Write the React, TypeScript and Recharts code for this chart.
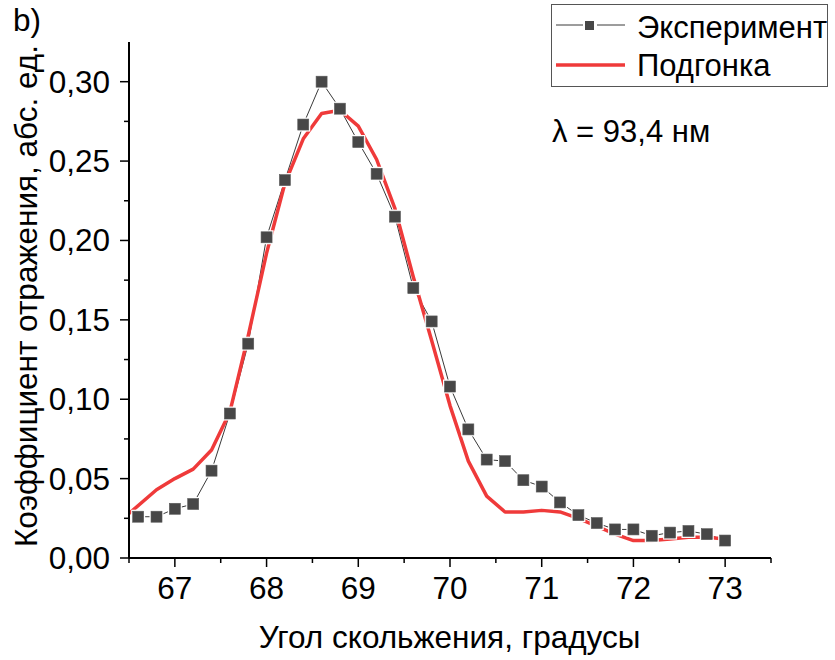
import React from 'react';
import { LineChart, Line, XAxis, YAxis } from 'recharts';

// Measured reflectivity vs. grazing angle
const expAngle = [
  66.6, 66.8, 67.0, 67.2, 67.4, 67.6, 67.8, 68.0, 68.2, 68.4, 68.6,
  68.8, 69.0, 69.2, 69.4, 69.6, 69.8, 70.0, 70.2, 70.4, 70.6, 70.8,
  71.0, 71.2, 71.4, 71.6, 71.8, 72.0, 72.2, 72.4, 72.6, 72.8, 73.0,
];
const expReflect = [
  0.026, 0.026, 0.031, 0.034, 0.055, 0.091, 0.135, 0.202, 0.238, 0.273, 0.300,
  0.283, 0.262, 0.242, 0.215, 0.170, 0.149, 0.108, 0.081, 0.062, 0.061, 0.049,
  0.045, 0.035, 0.027, 0.022, 0.018, 0.018, 0.014, 0.016, 0.017, 0.015, 0.011,
];

// Model fit
const fitAngle = [
  66.5, 66.8, 67.0, 67.2, 67.4, 67.6, 67.8, 68.0, 68.2, 68.4, 68.6,
  68.8, 69.0, 69.2, 69.4, 69.6, 69.8, 70.0, 70.2, 70.4, 70.6, 70.8,
  71.0, 71.2, 71.4, 71.6, 71.8, 72.0, 72.2, 72.4, 72.6, 72.8, 73.0,
];
const fitReflect = [
  0.028, 0.043, 0.050, 0.056, 0.068, 0.092, 0.140, 0.192, 0.236, 0.264, 0.280,
  0.282, 0.272, 0.251, 0.220, 0.177, 0.137, 0.096, 0.061, 0.039, 0.029, 0.029,
  0.030, 0.029, 0.025, 0.020, 0.015, 0.011, 0.011, 0.012, 0.013, 0.013, 0.012,
];

const xTicks = [66.5, 67, 67.5, 68, 68.5, 69, 69.5, 70, 70.5, 71, 71.5, 72, 72.5, 73, 73.5];
const yTicks = [0, 0.025, 0.05, 0.075, 0.1, 0.125, 0.15, 0.175, 0.2, 0.225, 0.25, 0.275, 0.3];

const seriesNames = ['Эксперимент', 'Подгонка'];
const xTitle = 'Угол скольжения, градусы';
const yTitle = 'Коэффициент отражения, абс. ед.';
const panelTag = 'b)';
const note = 'λ = 93,4 нм';

const expData = expAngle.map((x, i) => ({ x, y: expReflect[i] }));
const fitData = fitAngle.map((x, i) => ({ x, y: fitReflect[i] }));

const FONT = "'Liberation Sans', Arial, Helvetica, sans-serif";
const TEXT_SIZE = 31.5;
const EXP_COLOR = '#474747';
const EXP_LINE = '#3a3a3a';
const FIT_COLOR = '#ef3a3a';

const isMajorX = (v: number) => Math.abs(v - Math.round(v)) < 1e-6;
const isMajorY = (v: number) => Math.abs(v * 20 - Math.round(v * 20)) < 1e-6;

const XTick = (props: any) => {
  const { x, y, payload } = props;
  const v = payload.value as number;
  const major = isMajorX(v);
  return (
    <g>
      <line x1={x} x2={x} y1={y} y2={y + (major ? 9 : 5)} stroke="#000" strokeWidth={1.5} />
      {major && (
        <text x={x} y={y + 41} textAnchor="middle" fontSize={TEXT_SIZE} fontFamily={FONT} fill="#000">
          {String(v)}
        </text>
      )}
    </g>
  );
};

const YTick = (props: any) => {
  const { x, y, payload } = props;
  const v = payload.value as number;
  const major = isMajorY(v);
  return (
    <g>
      <line x1={x - (major ? 9 : 5)} x2={x} y1={y} y2={y} stroke="#000" strokeWidth={1.5} />
      {major && (
        <text x={x - 19} y={y + 11} textAnchor="end" fontSize={TEXT_SIZE} fontFamily={FONT} fill="#000">
          {v.toFixed(2).replace('.', ',')}
        </text>
      )}
    </g>
  );
};

// Square symbol with a white gap around it, so the connecting line stops short of the marker
const SquareDot = (props: any) => {
  const { cx, cy, index } = props;
  if (cx == null || cy == null) return <g key={index} />;
  return (
    <g key={index}>
      <rect x={cx - 7} y={cy - 7} width={14} height={14} fill="#fff" />
      <rect x={cx - 5.5} y={cy - 5.5} width={11} height={11} fill={EXP_COLOR} stroke="#5a5a5a" strokeWidth={0.6} />
    </g>
  );
};

const LegendBox = () => (
  <g fontFamily={FONT} fill="#000">
    <rect x={551.5} y={4.5} width={276} height={82} fill="#fff" stroke="#555" strokeWidth={1} />
    <line x1={556} x2={583} y1={25} y2={25} stroke={EXP_LINE} strokeWidth={1} />
    <line x1={597} x2={625} y1={25} y2={25} stroke={EXP_LINE} strokeWidth={1} />
    <rect x={585} y={21} width={9} height={9} fill={EXP_COLOR} />
    <text x={637} y={37.5} fontSize={31}>{seriesNames[0]}</text>
    <line x1={556} x2={625} y1={65} y2={65} stroke={FIT_COLOR} strokeWidth={3.5} />
    <text x={637} y={76} fontSize={31}>{seriesNames[1]}</text>
  </g>
);

export default function App() {
  return (
    <div style={{ position: 'absolute', left: 0, top: 0, width: 835, height: 660, background: '#fff' }}>
      <LineChart width={835} height={660} margin={{ top: 42, right: 64, bottom: 0, left: 0 }}>
        <XAxis
          type="number"
          dataKey="x"
          domain={[66.5, 73.5]}
          ticks={xTicks}
          interval={0}
          allowDataOverflow
          height={102}
          tickSize={0}
          tickMargin={0}
          tick={(p: any) => <XTick {...p} />}
          axisLine={{ stroke: '#000', strokeWidth: 2 }}
          tickLine={false}
        />
        <YAxis
          type="number"
          dataKey="y"
          domain={[0, 0.325]}
          ticks={yTicks}
          interval={0}
          allowDataOverflow
          width={129}
          tickSize={0}
          tickMargin={0}
          tick={(p: any) => <YTick {...p} />}
          axisLine={{ stroke: '#000', strokeWidth: 2 }}
          tickLine={false}
        />
        <Line
          data={expData}
          dataKey="y"
          name={seriesNames[0]}
          type="linear"
          stroke={EXP_LINE}
          strokeWidth={1}
          dot={(p: any) => <SquareDot {...p} />}
          activeDot={false}
          isAnimationActive={false}
        />
        <Line
          data={fitData}
          dataKey="y"
          name={seriesNames[1]}
          type="linear"
          stroke={FIT_COLOR}
          strokeWidth={3.5}
          strokeLinejoin="round"
          dot={false}
          activeDot={false}
          isAnimationActive={false}
        />
        <text x={13} y={31} fontSize={TEXT_SIZE} fontFamily={FONT} fill="#000">{panelTag}</text>
        <text x={449.5} y={648} fontSize={TEXT_SIZE} fontFamily={FONT} fill="#000" textAnchor="middle">{xTitle}</text>
        <text
          x={37}
          y={296}
          transform="rotate(-90 37 296)"
          fontSize={TEXT_SIZE}
          fontFamily={FONT}
          fill="#000"
          textAnchor="middle"
        >
          {yTitle}
        </text>
        <text x={552} y={142} fontSize={31} fontFamily={FONT} fill="#000">{note}</text>
        <LegendBox />
      </LineChart>
    </div>
  );
}
